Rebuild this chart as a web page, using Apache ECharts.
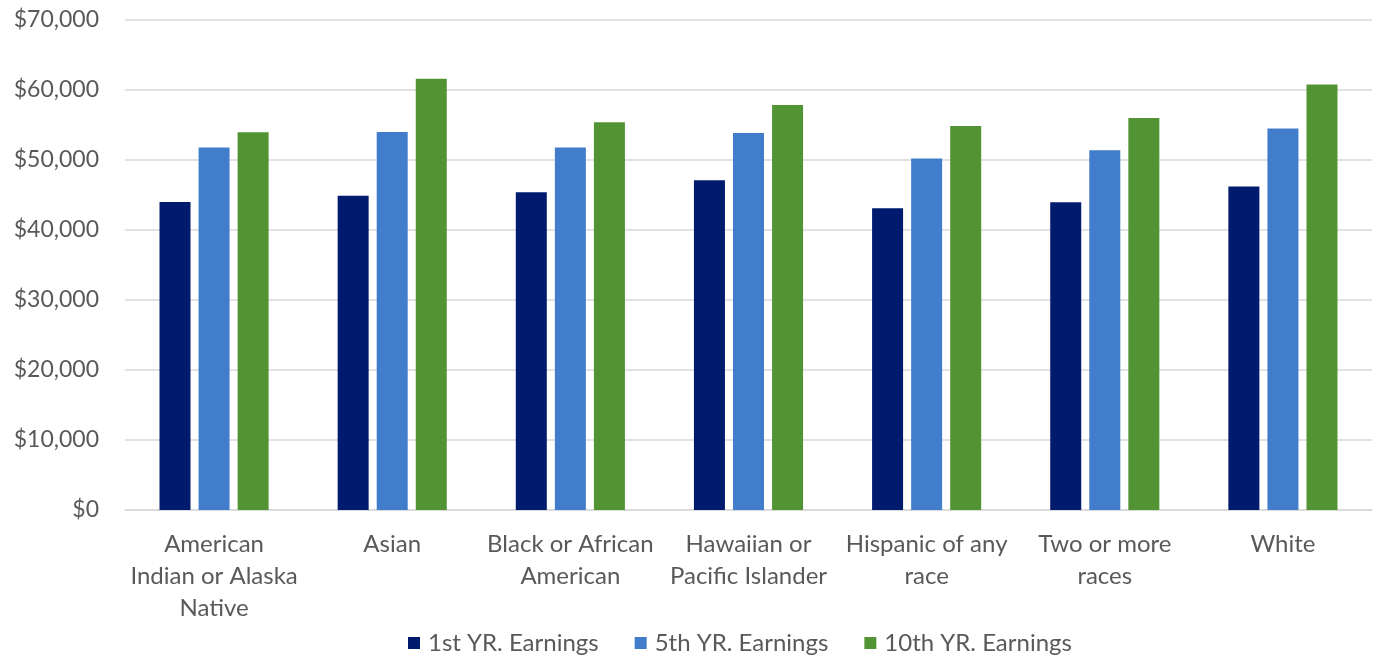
<!DOCTYPE html>
<html>
<head>
<meta charset="utf-8">
<script src="https://cdn.jsdelivr.net/npm/echarts@6/dist/echarts.min.js"></script>
<style>
  html, body { margin: 0; padding: 0; background: #fff; }
  #chart { width: 1382px; height: 658px; }
</style>
</head>
<body>
<div id="chart"></div>
<script>
// Earnings by race/ethnicity, 1st, 5th and 10th year after graduation
const categories = [
  'American\nIndian or Alaska\nNative',
  'Asian',
  'Black or African\nAmerican',
  'Hawaiian or\nPacific Islander',
  'Hispanic of any\nrace',
  'Two or more\nraces',
  'White'
];
const seriesNames = ['1st YR. Earnings', '5th YR. Earnings', '10th YR. Earnings'];
const firstYear = [44000, 44900, 45400, 47100, 43100, 43950, 46200];
const fifthYear = [51800, 54000, 51800, 53850, 50200, 51400, 54500];
const tenthYear = [53950, 61600, 55400, 57850, 54850, 56000, 60800];
const colors = ['#001A6E', '#427DCC', '#529433'];

const FONT = 'Lato, "Noto Sans", sans-serif';
const TEXT = '#595959';

const chart = echarts.init(document.getElementById('chart'), null, { renderer: 'canvas' });

const values = [firstYear, fifthYear, tenthYear];
chart.setOption({
  animation: false,
  textStyle: { fontFamily: FONT },
  grid: { left: 125, right: 10, top: 20, bottom: 148, containLabel: false },
  legend: {
    top: 626,
    left: 403,
    itemWidth: 12,
    itemHeight: 12,
    itemGap: 36,
    icon: 'rect',
    textStyle: { fontFamily: FONT, fontSize: 24, color: TEXT, padding: [0, 0, 0, 3] },
    data: seriesNames
  },
  xAxis: {
    type: 'category',
    data: categories,
    axisLine: { lineStyle: { color: '#D9D9D9', width: 1.5 } },
    axisTick: { show: false },
    axisLabel: {
      interval: 0,
      margin: 18,
      fontFamily: FONT,
      fontSize: 24,
      lineHeight: 32,
      color: TEXT,
      align: 'center'
    }
  },
  yAxis: {
    type: 'value',
    min: 0,
    max: 70000,
    interval: 10000,
    axisLine: { show: false },
    axisTick: { show: false },
    splitLine: { lineStyle: { color: '#D9D9D9', width: 1.5 } },
    axisLabel: {
      margin: 26,
      fontFamily: FONT,
      fontSize: 23,
      color: TEXT,
      formatter: v => '$' + v.toLocaleString('en-US')
    }
  },
  series: seriesNames.map((name, i) => ({
    name,
    type: 'bar',
    data: values[i],
    barWidth: 31,
    barGap: '26%',
    itemStyle: { color: colors[i] }
  }))
});
</script>
</body>
</html>
